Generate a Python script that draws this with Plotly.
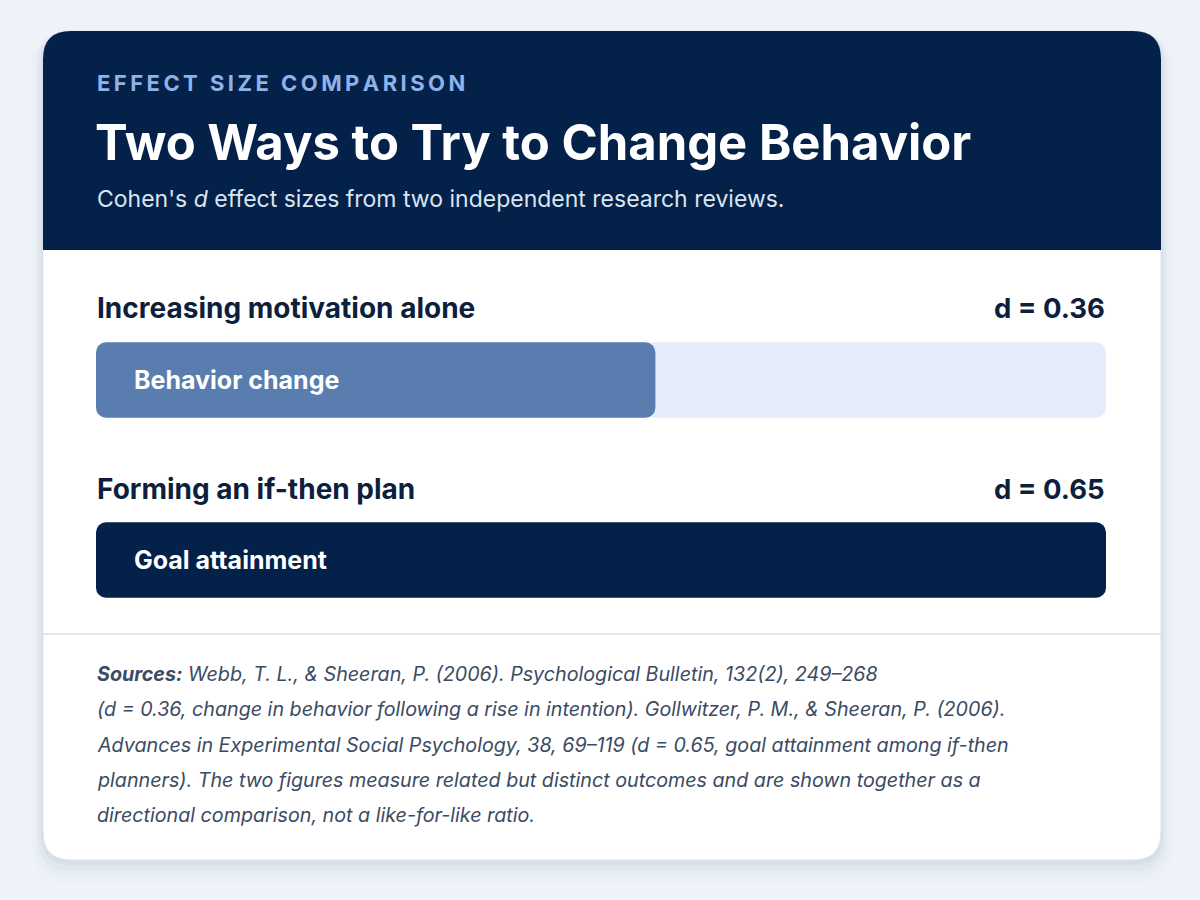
import plotly.graph_objects as go

# ---------------- data ----------------
categories = ["Increasing motivation alone", "Forming an if-then plan"]
outcomes = ["Behavior change", "Goal attainment"]
effect_sizes = [0.36, 0.65]
bar_colors = ["#5a7db0", "#04214a"]

eyebrow = "EFFECT SIZE COMPARISON"
title = "Two Ways to Try to Change Behavior"
subtitle = "Cohen's <i>d</i> effect sizes from two independent research reviews."
footer_lines = [
    "<b>Sources:</b> Webb, T. L., & Sheeran, P. (2006). Psychological Bulletin, 132(2), 249–268",
    "(d = 0.36, change in behavior following a rise in intention). Gollwitzer, P. M., & Sheeran, P. (2006).",
    "Advances in Experimental Social Psychology, 38, 69–119 (d = 0.65, goal attainment among if-then",
    "planners). The two figures measure related but distinct outcomes and are shown together as a",
    "directional comparison, not a like-for-like ratio.",
]

# ---------------- layout helpers ----------------
W, H = 1200, 900
NAVY = "#04214a"
TRACK = "#e4edf9"
LABEL = "#0d1f3c"


def px(x):
    return x / W


def py(y):
    return 1 - y / H


def rrect(x0, y0, x1, y1, r, top=True, bottom=True):
    rt = r if top else 0
    rb = r if bottom else 0
    pts = [f"M {px(x0 + rt)},{py(y0)}", f"L {px(x1 - rt)},{py(y0)}"]
    if rt:
        pts.append(f"Q {px(x1)},{py(y0)} {px(x1)},{py(y0 + rt)}")
    pts.append(f"L {px(x1)},{py(y1 - rb)}")
    if rb:
        pts.append(f"Q {px(x1)},{py(y1)} {px(x1 - rb)},{py(y1)}")
    pts.append(f"L {px(x0 + rb)},{py(y1)}")
    if rb:
        pts.append(f"Q {px(x0)},{py(y1)} {px(x0)},{py(y1 - rb)}")
    pts.append(f"L {px(x0)},{py(y0 + rt)}")
    if rt:
        pts.append(f"Q {px(x0)},{py(y0)} {px(x0 + rt)},{py(y0)}")
    pts.append("Z")
    return " ".join(pts)


def spaced(s, sep="\u200a\u200a"):
    return sep.join(s)


CX0, CY0, CX1, CY1, CR = 43, 31, 1161, 860, 28
HEADER_BOTTOM = 250

shapes = []
# soft shadow
for dy, sp, op in [(12, 12, 0.012), (9, 8, 0.02), (6, 5, 0.03), (3, 2, 0.045)]:
    shapes.append(dict(type="path", xref="paper", yref="paper", layer="below",
                       path=rrect(CX0 - sp, CY0 - sp + dy, CX1 + sp, CY1 + sp + dy, CR + sp),
                       fillcolor=f"rgba(30,50,90,{op})", line=dict(width=0)))
# card body
shapes.append(dict(type="path", xref="paper", yref="paper", layer="below",
                   path=rrect(CX0, CY0, CX1, CY1, CR), fillcolor="#ffffff",
                   line=dict(color="#dde3ec", width=1)))
# header
shapes.append(dict(type="path", xref="paper", yref="paper", layer="below",
                   path=rrect(CX0, CY0, CX1, HEADER_BOTTOM, CR, top=True, bottom=False),
                   fillcolor=NAVY, line=dict(width=0)))
# divider above footer
shapes.append(dict(type="line", xref="paper", yref="paper", layer="below",
                   x0=px(CX0), x1=px(CX1), y0=py(634), y1=py(634),
                   line=dict(color="#d8e0eb", width=1.5)))

fig = go.Figure()

BAR_W = 0.42
RAD = 10
zeros = [0] * len(categories)
track = [max(effect_sizes)] * len(categories)

# background track (explicit base -> both ends rounded)
fig.add_trace(go.Bar(
    y=categories, x=track, base=zeros, orientation="h", width=BAR_W,
    marker=dict(color=TRACK, cornerradius=RAD, line=dict(width=0)),
    hoverinfo="skip", showlegend=False))
# value bars
fig.add_trace(go.Bar(
    y=categories, x=effect_sizes, base=zeros, orientation="h", width=BAR_W,
    marker=dict(color=bar_colors, cornerradius=RAD, line=dict(width=0)),
    customdata=outcomes,
    hovertemplate="%{y}<br>%{customdata}: d = %{x:.2f}<extra></extra>",
    showlegend=False))

annotations = []
FONT = "Inter"
annotations.append(dict(xref="paper", yref="paper", x=px(95), y=py(83), xanchor="left", yanchor="middle",
                        text=spaced(eyebrow), showarrow=False,
                        font=dict(family=FONT, size=22, color="#8fb2e8", weight="bold")))
annotations.append(dict(xref="paper", yref="paper", x=px(93), y=py(142), xanchor="left", yanchor="middle",
                        text=f"<b>{title}</b>", showarrow=False,
                        font=dict(family=FONT, size=49, color="#ffffff")))
annotations.append(dict(xref="paper", yref="paper", x=px(95), y=py(199), xanchor="left", yanchor="middle",
                        text=subtitle, showarrow=False,
                        font=dict(family=FONT, size=23, color="#dbe4f1")))

for i, (cat, out, v) in enumerate(zip(categories, outcomes, effect_sizes)):
    ly = 308 + 181 * i
    annotations.append(dict(xref="paper", yref="paper", x=px(95), y=py(ly), xanchor="left", yanchor="middle",
                            text=f"<b>{cat}</b>", showarrow=False,
                            font=dict(family=FONT, size=28, color=LABEL)))
    annotations.append(dict(xref="paper", yref="paper", x=px(1107), y=py(ly), xanchor="right", yanchor="middle",
                            text=f"<b>d = {v:.2f}</b>", showarrow=False,
                            font=dict(family=FONT, size=27.5, color=LABEL)))
    annotations.append(dict(xref="paper", yref="y", x=px(132), y=cat, xanchor="left", yanchor="middle",
                            text=f"<b>{out}</b>", showarrow=False,
                            font=dict(family=FONT, size=25, color="#ffffff")))

for i, line in enumerate(footer_lines):
    annotations.append(dict(xref="paper", yref="paper", x=px(95), y=py(674 + 35.3 * i),
                            xanchor="left", yanchor="middle",
                            text=f"<i>{line}</i>", showarrow=False,
                            font=dict(family=FONT, size=19.7, color="#3b4b63")))

fig.update_layout(
    width=W, height=H,
    margin=dict(l=0, r=0, t=0, b=0),
    paper_bgcolor="#eff3f9",
    plot_bgcolor="rgba(0,0,0,0)",
    barmode="overlay",
    shapes=shapes,
    annotations=annotations,
    xaxis=dict(range=[0, max(effect_sizes)], domain=[px(96), px(1106)], visible=False, fixedrange=True),
    yaxis=dict(categoryorder="array", categoryarray=categories, autorange="reversed",
               domain=[py(650), py(290)], visible=False, fixedrange=True),
)

fig.write_html("out.html", config={"displayModeBar": False})
